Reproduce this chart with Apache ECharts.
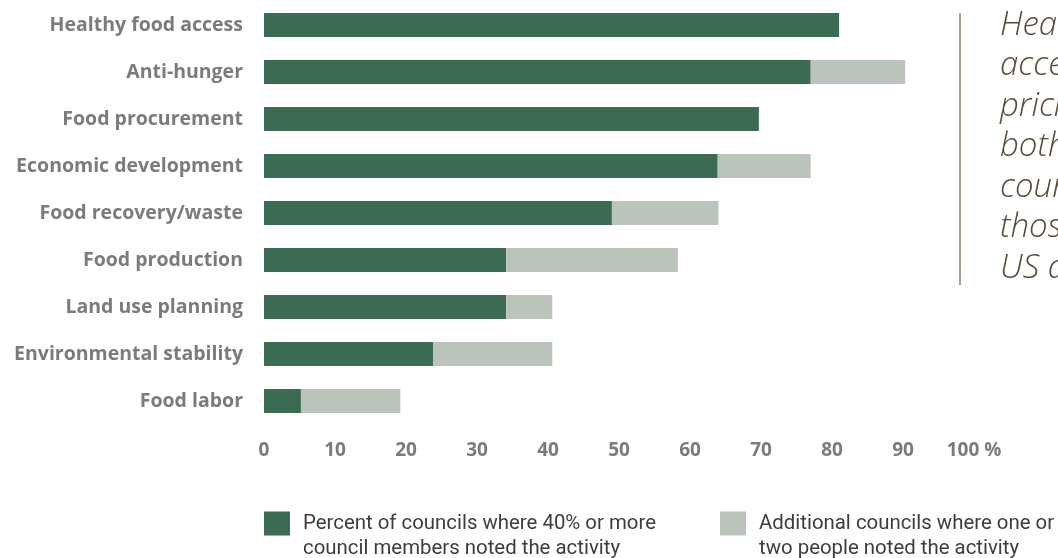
<!DOCTYPE html>
<html>
<head>
<meta charset="utf-8">
<script src="https://cdn.jsdelivr.net/npm/echarts@6/dist/echarts.min.js"></script>
<style>
  html, body { margin: 0; padding: 0; background: #fff; }
  #chart { width: 1058px; height: 558px; }
</style>
</head>
<body>
<div id="chart"></div>
<script>
var categories = ['Healthy food access', 'Anti-hunger', 'Food procurement', 'Economic development',
    'Food recovery/waste', 'Food production', 'Land use planning', 'Environmental stability', 'Food labor'];
// percent of councils where 40% or more council members noted the activity
var majority = [81, 77, 69.7, 63.9, 49, 34.1, 34.1, 23.8, 5.2];
// additional councils where one or two people noted the activity
var additional = [0, 13.3, 0, 13.1, 15, 24.2, 6.5, 16.8, 14];
var xTicks = [0, 10, 20, 30, 40, 50, 60, 70, 80, 90, 100];
var legendNames = ['Percent of councils where 40% or more\ncouncil members noted the activity',
    'Additional councils where one or\ntwo people noted the activity'];
var sideNote = ['Healthy food', 'access is a top', 'priority for', 'both Canadian', 'councils and', 'those in the', 'US alike'];
sideNote[2] = 'pricing for';

var DARK = '#3b6b51';
var LIGHT = '#bac4ba';

var myChart = echarts.init(document.getElementById('chart'));

var noteLines = sideNote.map(function (t, i) {
    return {
        type: 'text',
        left: 1000,
        top: 9 + i * 40.5,
        style: {
            text: t,
            fill: '#5a4935',
            font: 'italic 300 33px "Open Sans", sans-serif'
        }
    };
});

var legendText = {
    color: '#3d3d3d',
    fontFamily: '"Roboto", sans-serif',
    fontSize: 20.4,
    lineHeight: 25,
    padding: [0, 0, 0, 8]
};

function legendFormat(name) {
    // blank first line so the square sits beside the first text line
    return ' \n' + name;
}

myChart.setOption({
    backgroundColor: '#ffffff',
    animation: false,
    grid: {
        left: 264,
        right: 84,
        top: 1.5,
        bottom: 133.5,
        containLabel: false
    },
    xAxis: {
        type: 'value',
        min: 0,
        max: 100,
        interval: 10,
        splitLine: { show: false },
        axisLine: { show: false },
        axisTick: { show: false },
        axisLabel: {
            margin: 17,
            color: '#7b7b7b',
            fontWeight: 'bold',
            fontSize: 19,
            fontFamily: '"Open Sans", sans-serif',
            formatter: function (v) {
                return xTicks.indexOf(v) < 0 ? '' : (v === 100 ? v + ' %' : '' + v);
            }
        }
    },
    yAxis: {
        type: 'category',
        inverse: true,
        data: categories,
        axisLine: { show: false },
        axisTick: { show: false },
        axisLabel: {
            margin: 21,
            color: '#7b7b7b',
            fontWeight: 'bold',
            fontSize: 19.5,
            fontFamily: '"Open Sans", sans-serif'
        }
    },
    legend: [
        {
            data: [legendNames[0]],
            left: 264,
            top: 486,
            padding: 0,
            itemWidth: 26,
            itemHeight: 24,
            icon: 'rect',
            selectedMode: false,
            formatter: legendFormat,
            textStyle: legendText
        },
        {
            data: [legendNames[1]],
            left: 720,
            top: 486,
            padding: 0,
            itemWidth: 26,
            itemHeight: 24,
            icon: 'rect',
            selectedMode: false,
            formatter: legendFormat,
            textStyle: legendText
        }
    ],
    graphic: [
        {
            type: 'line',
            shape: { x1: 960, y1: 13, x2: 960, y2: 285 },
            style: { stroke: '#a99e90', lineWidth: 2 }
        }
    ].concat(noteLines),
    series: [
        {
            name: legendNames[0],
            type: 'bar',
            stack: 'total',
            barWidth: 24,
            itemStyle: { color: DARK },
            data: majority
        },
        {
            name: legendNames[1],
            type: 'bar',
            stack: 'total',
            barWidth: 24,
            itemStyle: { color: LIGHT },
            data: additional
        }
    ]
});
</script>
</body>
</html>
